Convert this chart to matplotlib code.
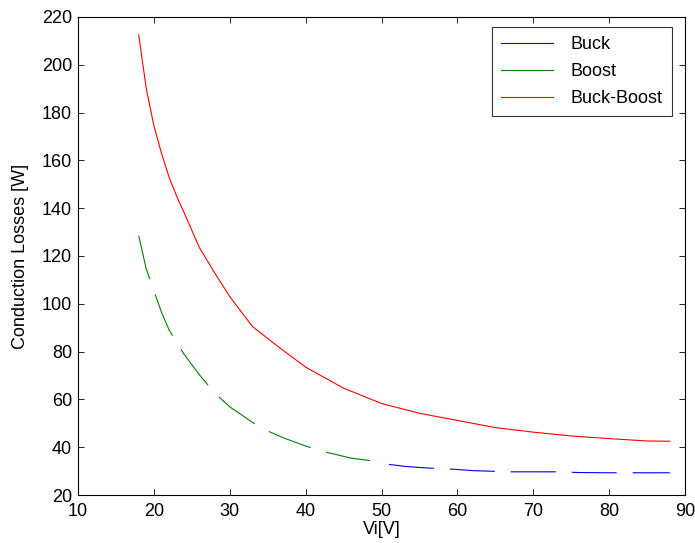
import matplotlib
matplotlib.use("Agg")
import matplotlib.pyplot as plt

plt.rcParams['font.family'] = ['Liberation Sans', 'DejaVu Sans']
plt.rcParams['lines.scale_dashes'] = False

# Buck-Boost
vi_bb = [18, 19, 20, 21, 22, 23, 24, 26, 28, 30, 33, 36, 40, 45, 50, 55, 60, 65, 70, 75, 80, 85, 88]
p_bb = [212.5, 190, 174.5, 163, 153, 145, 138, 123.5, 113, 103, 90.5, 83, 73.5, 64.7, 58.3, 54.2,
        51.2, 48.2, 46.3, 44.7, 43.6, 42.6, 42.5]

# Boost
vi_boost = [18, 19, 20, 21, 22, 24, 26, 28, 30, 33, 35, 37, 40, 43, 46, 48.5]
p_boost = [128.5, 114.5, 105.5, 96.5, 89.1, 78.8, 70.3, 62.7, 56.9, 50.4, 46.8, 44, 40.5, 37.7, 35.4, 34.4]

# Buck
vi_buck = [51, 53, 56, 59, 62, 67, 73, 76, 80, 88]
p_buck = [32.8, 32.0, 31.3, 30.9, 30.2, 29.7, 29.7, 29.4, 29.3, 29.3]

xticks = [10, 20, 30, 40, 50, 60, 70, 80, 90]
yticks = [20, 40, 60, 80, 100, 120, 140, 160, 180, 200, 220]

W, H = 695, 543
fig = plt.figure(figsize=(W / 100, H / 100), dpi=100)
ax = fig.add_axes([78 / W, 1 - 495 / H, (685 - 78) / W, (495 - 17) / H])

dash = (0, (32.4, 11.5))
ax.plot(vi_buck, p_buck, color='#0000ff', lw=0.8, linestyle=dash, label='Buck')
ax.plot(vi_boost, p_boost, color='#008000', lw=0.8, linestyle=dash, label='Boost')
ax.plot(vi_bb, p_bb, color='#ff0000', lw=0.8, label='Buck-Boost')

ax.set_xlim(10, 90)
ax.set_ylim(20, 220)
ax.set_xticks(xticks)
ax.set_yticks(yticks)
ax.tick_params(direction='in', length=4.5, width=0.6, top=True, right=True,
               labelsize=13, colors='black')
ax.tick_params(axis='x', pad=5.5)
ax.tick_params(axis='y', pad=4.3)
for s in ax.spines.values():
    s.set_linewidth(0.8)

ax.set_xlabel('Vi[V]', fontsize=13, labelpad=1)
ax.set_ylabel('Conduction Losses [W]', fontsize=13, labelpad=9)

leg = ax.legend(loc='upper right', bbox_to_anchor=(1 - 13 / 607, 1 - 10 / 478),
                borderaxespad=0, fontsize=13, frameon=True, fancybox=False,
                edgecolor='black', handlelength=2.9, handletextpad=1.0,
                labelspacing=0.55, borderpad=0.5)
leg.get_frame().set_linewidth(0.8)
for h in leg.get_lines():
    h.set_linestyle('-')

fig.savefig('out.png', dpi=100)
